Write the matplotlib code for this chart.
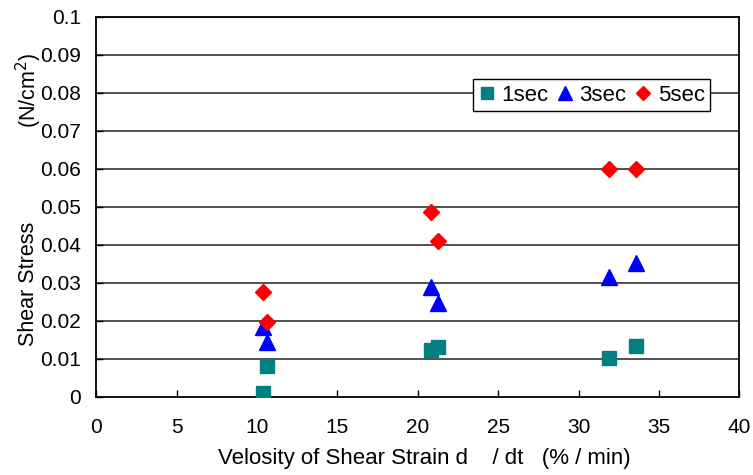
import matplotlib
matplotlib.use("Agg")
import matplotlib.pyplot as plt

plt.rcParams['font.family'] = ['Liberation Sans', 'DejaVu Sans']

x_1sec = [10.35, 10.62, 20.8, 21.25, 31.87, 33.56]
y_1sec = [0.001, 0.008, 0.0122, 0.013, 0.0102, 0.0134]
x_3sec = [10.35, 10.62, 20.8, 21.25, 31.87, 33.56]
y_3sec = [0.0183, 0.0143, 0.029, 0.0246, 0.0316, 0.0351]
x_5sec = [10.35, 10.62, 20.8, 21.25, 31.87, 33.56]
y_5sec = [0.0276, 0.0196, 0.0487, 0.041, 0.060, 0.060]
labels = ["1sec", "3sec", "5sec"]
xticks = [0, 5, 10, 15, 20, 25, 30, 35, 40]
yticks = [0, 0.01, 0.02, 0.03, 0.04, 0.05, 0.06, 0.07, 0.08, 0.09, 0.1]
ytick_labels = ["0", "0.01", "0.02", "0.03", "0.04", "0.05", "0.06", "0.07", "0.08", "0.09", "0.1"]

fig = plt.figure(figsize=(7.53, 4.75), dpi=100)
ax = fig.add_axes([0.128, 0.1648, 0.8538, 0.8])

for yv in yticks[1:]:
    ax.axhline(yv, color='#222222', lw=1.1, zorder=1)

ax.plot(x_1sec, y_1sec, ls='none', marker='s', ms=10, color='#008080', label=labels[0], zorder=3)
ax.plot(x_3sec, y_3sec, ls='none', marker='^', ms=11, color='#0000ff', label=labels[1], zorder=3)
ax.plot(x_5sec, y_5sec, ls='none', marker='D', ms=8, color='#ff0000', label=labels[2], zorder=3)

ax.set_xlim(0, 40)
ax.set_ylim(0, 0.1)
ax.set_xticks(xticks)
ax.set_xticklabels([str(v) for v in xticks])
ax.set_yticks(yticks)
ax.set_yticklabels(ytick_labels)
ax.tick_params(direction='in', length=5, width=1, labelsize=15, colors='black')
ax.tick_params(axis='x', pad=15)
ax.tick_params(axis='y', pad=11)
for s in ax.spines.values():
    s.set_linewidth(1.3)
    s.set_color('black')

ax.set_xlabel("Velosity of Shear Strain d    / dt   (% / min)", fontsize=16)
ax.xaxis.set_label_coords(0.51, -0.135)
fig.text(29 / 753, 1 - 284 / 475, "Shear Stress", rotation=90, fontsize=15.5,
         ha='center', va='center')
fig.text(29 / 753, 1 - 90 / 475, "(N/cm$^2$)", rotation=90, fontsize=15.5,
         ha='center', va='center')

leg = ax.legend(loc='upper right', bbox_to_anchor=(0.955, 0.836), ncol=3, frameon=True,
                fancybox=False, edgecolor='black', framealpha=1, fontsize=16,
                handlelength=0.7, handletextpad=0.3, columnspacing=0.4,
                borderpad=0.25, markerscale=0.9, borderaxespad=0)
leg.get_frame().set_linewidth(1.0)

fig.savefig("out.png", dpi=100)
